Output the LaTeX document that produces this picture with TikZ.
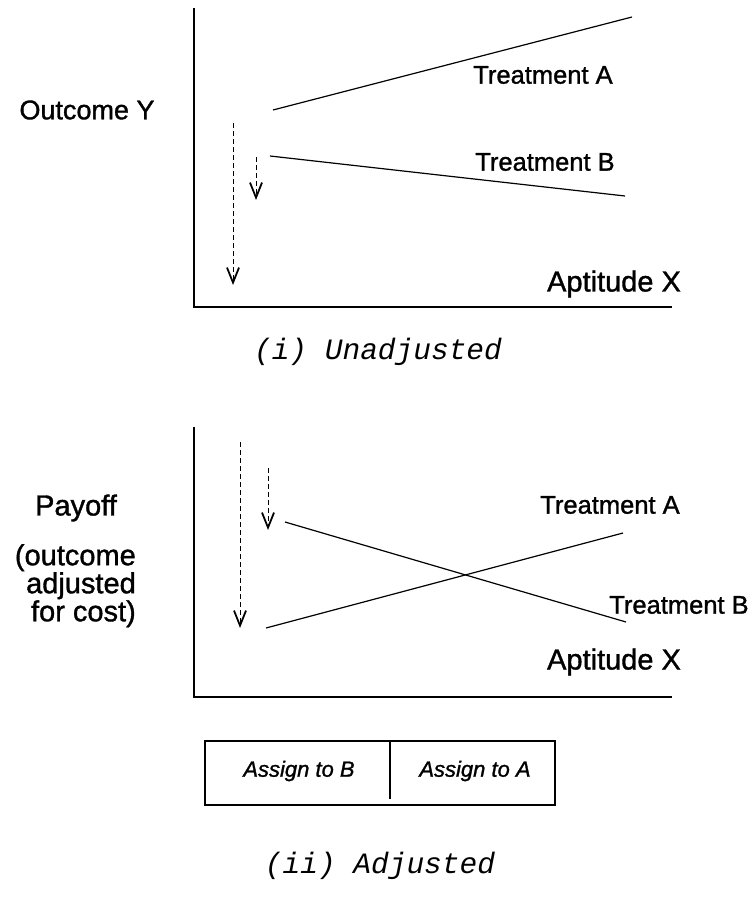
\documentclass[tikz,border=0pt]{standalone}
\usepackage{fontspec}
\setmainfont{Liberation Sans}[FakeBold=1.2]
\newfontfamily\labfont{Liberation Sans}[FakeBold=1.2]
\newfontfamily\capfont{Liberation Mono}
\usetikzlibrary{arrows.meta}
\begin{document}
\begin{tikzpicture}[x=1pt,y=-1pt,
  axisline/.style={line width=1.1pt},
  trline/.style={line width=1.2pt},
  dasharrow/.style={line width=0.9pt, dash pattern=on 5pt off 3pt,
    -{Straight Barb[length=15pt,width=12pt,line width=1.8pt]}},
  lbl/.style={font=\labfont\fontsize{25.5}{30}\selectfont, inner sep=0pt},
  axlbl/.style={font=\labfont\fontsize{29}{32}\selectfont, inner sep=0pt},
  caplbl/.style={font=\capfont\itshape\fontsize{29.5}{32}\selectfont, inner sep=0pt},
  assignlbl/.style={font=\labfont\itshape\fontsize{22}{26}\selectfont, inner sep=0pt},
  boxframe/.style={draw, line width=1.3pt, inner sep=0pt}]
\useasboundingbox (0,0) rectangle (755,909);

% ---------- (i) Unadjusted ----------
\coordinate (ytop1) at (194,8);
\coordinate (orig1) at (194,307);
\coordinate (xend1) at (672,307);
\draw[axisline] (ytop1) -- (orig1) -- (xend1);

\coordinate (a1s) at (273,110);
\coordinate (a1e) at (632,17);
\coordinate (b1s) at (270,156);
\coordinate (b1e) at (625,196);
\draw[trline] (a1s) -- (a1e);
\draw[trline] (b1s) -- (b1e);

\node[lbl] (ta1) at (543,75) {Treatment A};
\node[lbl] (tb1) at (545,162) {Treatment B};
\node[axlbl] (ax1) at (614,284) {Aptitude X};
\node[axlbl, font=\labfont\fontsize{27}{32}\selectfont] (oy) at (87,110) {Outcome Y};

\coordinate (d1s) at (233,123);
\coordinate (d1e) at (233,285);
\coordinate (d2s) at (256,157);
\coordinate (d2e) at (256,200);
\draw[dasharrow] (d1s) -- (d1e);
\draw[dasharrow] (d2s) -- (d2e);

\node[caplbl] (cap1) at (378,352) {(i) Unadjusted};

% ---------- (ii) Adjusted ----------
\coordinate (ytop2) at (194,427);
\coordinate (orig2) at (194,697);
\coordinate (xend2) at (672,697);
\draw[axisline] (ytop2) -- (orig2) -- (xend2);

\node[axlbl] (pay) at (76,508) {Payoff};
\node[axlbl, align=right, anchor=north east, font=\labfont\fontsize{29}{24}\selectfont] (payd) at (136,544) {(outcome\\adjusted\\for cost)};

\coordinate (b2s) at (285,522);
\coordinate (b2e) at (626,622);
\coordinate (a2s) at (266,628);
\coordinate (a2e) at (623,533);
\draw[trline] (b2s) -- (b2e);
\draw[trline] (a2s) -- (a2e);

\node[lbl] (ta2) at (610,505) {Treatment A};
\node[lbl] (tb2) at (679,605) {Treatment B};
\node[axlbl] (ax2) at (614,662) {Aptitude X};

\coordinate (d3s) at (240,442);
\coordinate (d3e) at (240,628);
\coordinate (d4s) at (268,468);
\coordinate (d4e) at (268,530);
\draw[dasharrow] (d3s) -- (d3e);
\draw[dasharrow] (d4s) -- (d4e);

\node[boxframe, minimum width=350pt, minimum height=64pt] (abox) at (380,773) {};
\coordinate (divtop) at (390,741);
\coordinate (divbot) at (390,799);
\draw[line width=1.3pt] (divtop) -- (divbot);
\node[assignlbl] (asb) at (299,771) {Assign to B};
\node[assignlbl] (asa) at (475,771) {Assign to A};

\node[caplbl] (cap2) at (380,866) {(ii) Adjusted};
\end{tikzpicture}
\end{document}
